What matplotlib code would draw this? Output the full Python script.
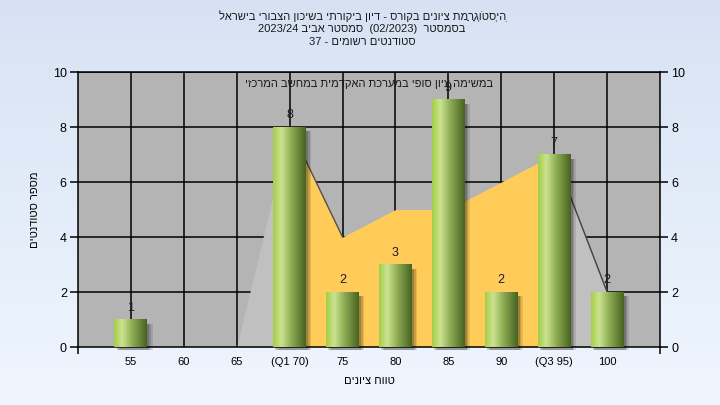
import re
import unicodedata
import numpy as np
import matplotlib
matplotlib.use("Agg")
import matplotlib.pyplot as plt
from matplotlib.colors import LinearSegmentedColormap

plt.rcParams['font.family'] = ['Liberation Sans', 'DejaVu Sans']

# ---------------- data ----------------
categories = ["55", "60", "65", "(Q1 70)", "75", "80", "85", "90", "(Q3 95)", "100"]
counts = [1, 0, 0, 8, 2, 3, 9, 2, 7, 2]
area_values = [0, 0, 0, 8, 4, 5, 5, 6, 7, 2]
q1_index = 3
q3_index = 8
title_lines = [
    "הִיסְטוֹגְרָמַת ציונים בקורס - דיון ביקורתי בשיכון הצבורי בישראל",
    "בסמסטר  (02/2023)  סמסטר אביב 2023/24",
    "סטודנטים רשומים - 37",
]
inner_text = "במשימה ציון סופי במערכת האקדמית במחשב המרכזי"
xlabel_text = "טווח ציונים"
ylabel_text = "מספר סטודנטים"
y_ticks = [0, 2, 4, 6, 8, 10]


def is_heb(tok):
    return any('\u0590' <= c <= '\u05FF' for c in tok)


def rev_clusters(tok):
    clusters = []
    for ch in tok:
        if clusters and unicodedata.combining(ch):
            clusters[-1] += ch
        else:
            clusters.append(ch)
    return "".join(reversed(clusters))


def visual(s):
    parts = re.split(r'(\s+)', s)
    out = []
    for p in parts:
        if is_heb(p):
            out.append(rev_clusters(p))
        else:
            out.append(p)
    return "".join(reversed(out))


# ---------------- figure ----------------
fig = plt.figure(figsize=(7.2, 4.05), dpi=100)

# background gradient
bg = fig.add_axes([0, 0, 1, 1], zorder=-10)
grad = np.linspace(0, 1, 256).reshape(-1, 1)
bg_cmap = LinearSegmentedColormap.from_list("bg", [(0.94, 0.965, 0.995), (0.84, 0.886, 0.957)])
bg.imshow(grad, aspect='auto', cmap=bg_cmap, extent=(0, 1, 0, 1), origin='lower')
bg.set_axis_off()

ax = fig.add_axes([0.1083, 0.1432, 0.8084, 0.679])
ax.set_facecolor('#b4b4b4')
x = np.arange(len(categories))
ax.set_xlim(-1, len(categories))
ax.set_ylim(0, 10)

# grid
for xi in x:
    ax.axvline(xi, color='black', lw=1.1, zorder=1)
for yv in y_ticks[1:]:
    ax.axhline(yv, color='black', lw=1.1, zorder=1)

# area series
xa = np.array(x, dtype=float)
va = np.array(area_values, dtype=float)
ax.fill_between(xa[:q1_index + 1], 0, va[:q1_index + 1], color='#c0c0c0', lw=0, zorder=1.5)
ax.fill_between(xa[q3_index:], 0, va[q3_index:], color='#c0c0c0', lw=0, zorder=1.5)
ax.fill_between(xa[q1_index:q3_index + 1], 0, va[q1_index:q3_index + 1], color='#ffcc5a', lw=0, zorder=1.6)
ax.plot(xa[q1_index:q1_index + 2], va[q1_index:q1_index + 2], color='#505050', lw=1.0, zorder=1.7)
ax.plot(xa[q3_index:q3_index + 2], va[q3_index:q3_index + 2], color='#404040', lw=1.0, zorder=1.7)

# bars with gradient
bar_w = 0.62
bar_cmap = LinearSegmentedColormap.from_list(
    "bar",
    [(0.0, (0.64, 0.81, 0.28)), (0.25, (0.80, 0.89, 0.57)), (0.55, (0.56, 0.68, 0.33)),
     (1.0, (0.28, 0.39, 0.13))])
gbar = np.linspace(0, 1, 64).reshape(1, -1)
for xi, v in zip(x, counts):
    if v <= 0:
        continue
    # shadow
    for k, a in enumerate([0.10, 0.14, 0.18]):
        off = 0.10 - k * 0.03
        ax.add_patch(plt.Rectangle((xi - bar_w / 2 + off, -0.1), bar_w, v - 0.05,
                                   color='black', alpha=a, lw=0, zorder=2.5, clip_on=False))
    ax.imshow(gbar, aspect='auto', cmap=bar_cmap,
              extent=(xi - bar_w / 2, xi + bar_w / 2, 0, v), zorder=3, interpolation='bilinear')
    ax.text(xi, v + 0.42, str(v), ha='center', va='center', fontsize=9, color='#1a1a2a', zorder=4)

ax.set_xlim(-1, len(categories))
ax.set_ylim(0, 10)

# ticks
ax.set_xticks(x)
ax.set_xticklabels(categories, fontsize=8)
ax.tick_params(axis='x', length=0, pad=7)
ax.set_xticks([-1, len(categories)], minor=True)
ax.tick_params(axis='x', which='minor', length=5, width=1.1, direction='out')
ax.set_yticks(y_ticks)
ax.tick_params(axis='y', labelsize=9, length=6, width=1.1, direction='out',
               left=True, right=True, labelleft=True, labelright=True, pad=2)
for sp in ax.spines.values():
    sp.set_color('black')
    sp.set_linewidth(1.1)

ax.set_xlabel(visual(xlabel_text), fontsize=8, labelpad=7)
ax.set_ylabel(visual(ylabel_text), fontsize=8, labelpad=9)

ax.text(0.5, 0.955, visual(inner_text), transform=ax.transAxes, ha='center', va='center',
        fontsize=8, color='#1a1a1a', zorder=5)

fig.text(0.503, 0.975, "\n".join(visual(t) for t in title_lines), ha='center', va='top',
         fontsize=8, color='#1a1a1a', linespacing=1.3)

fig.savefig("out.png", dpi=100)
